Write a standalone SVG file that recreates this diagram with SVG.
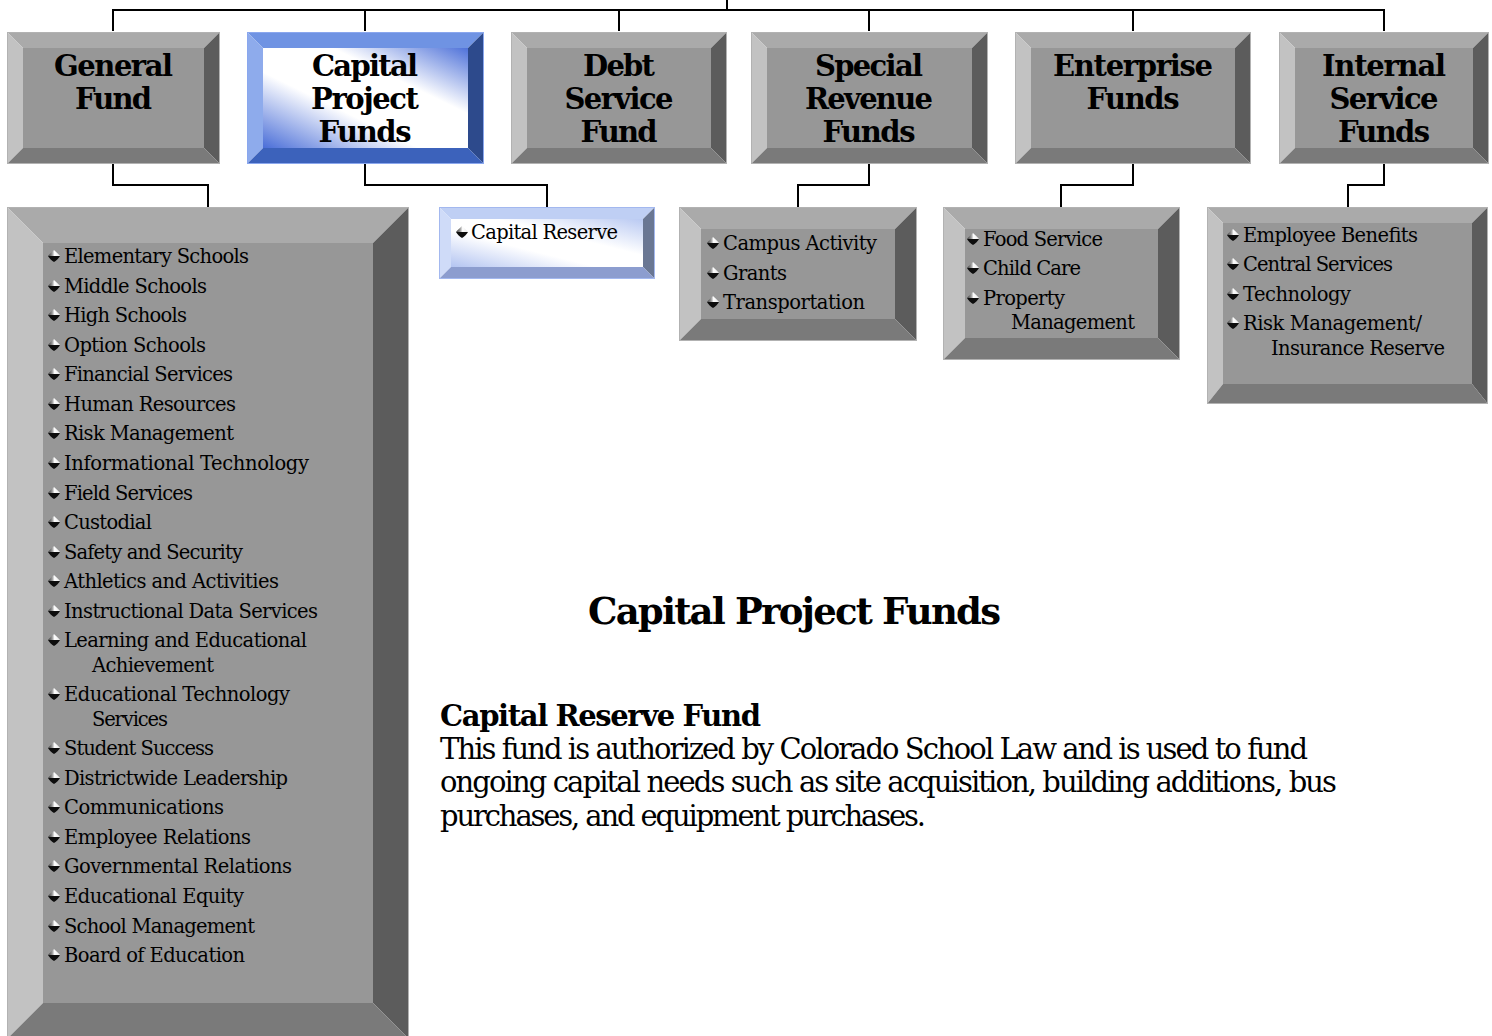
<svg xmlns="http://www.w3.org/2000/svg" xmlns:xlink="http://www.w3.org/1999/xlink" width="1492" height="1036" viewBox="0 0 1492 1036">
<style>
.t{font-family:"DejaVu Serif","Liberation Serif",serif;fill:#000}
.h{font-weight:bold;font-size:29px;text-anchor:middle}
.li{font-size:19.5px}
.gt{fill:#aaaaaa}.gl{fill:#c2c2c2}.gr{fill:#5c5c5c}.gb{fill:#7a7a7a}.gf{fill:#979797}
.go{fill:none;stroke:#b2b2b2;stroke-width:1}
.conn{fill:none;stroke:#000;stroke-width:2}
</style>
<defs>
<linearGradient id="blueFace" x1="1" y1="0" x2="0" y2="1">
<stop offset="0" stop-color="#4f72d9"/>
<stop offset="0.33" stop-color="#ffffff"/>
<stop offset="0.62" stop-color="#ffffff"/>
<stop offset="1" stop-color="#4a6ed8"/>
</linearGradient>
<linearGradient id="lightFace" x1="1" y1="0" x2="0" y2="1">
<stop offset="0" stop-color="#b9c9f2"/>
<stop offset="0.38" stop-color="#ffffff"/>
<stop offset="0.62" stop-color="#ffffff"/>
<stop offset="1" stop-color="#b3c4f1"/>
</linearGradient>
<linearGradient id="bulTop" x1="0" y1="0" x2="1" y2="0">
<stop offset="0" stop-color="#3a3a3a"/>
<stop offset="0.35" stop-color="#9a9a9a"/>
<stop offset="0.55" stop-color="#ffffff"/>
<stop offset="1" stop-color="#e6e6e6"/>
</linearGradient>
<g id="bul">
<path d="M0,-6 C2,-4 4.5,-2 6,0 L-6,0 C-4.5,-2 -2,-4 0,-6 Z" fill="url(#bulTop)"/>
<path d="M-6,0 L6,0 C5,2 2.5,4.5 0,6 C-2.5,4.5 -5,2 -6,0 Z" fill="#0d0d0d"/>
</g>
</defs>

<g id="connectors">
<path class="conn" d="M727,0 V10 M113,31 V10 H1384 V31 M365,10 V31 M619,10 V31 M869,10 V31 M1133,10 V31"/>
<path class="conn" d="M113,164 V185 H208 V207 M365,164 V185 H547 V207 M869,164 V185 H798 V207 M1133,164 V185 H1061 V207 M1384,164 V185 H1348 V207"/>
</g>

<g id="general-fund">
<polygon class="gt" points="7,32 220,32 204,48 23,48"/>
<polygon class="gl" points="7,32 23,48 23,148 7,164"/>
<polygon class="gr" points="220,32 220,164 204,148 204,48"/>
<polygon class="gb" points="7,164 220,164 204,148 23,148"/>
<rect class="gf" x="23" y="48" width="181" height="100"/>
<rect class="go" x="7.5" y="32.5" width="212" height="131"/>
<text class="t h" x="113.5" y="76" textLength="119">General</text>
<text class="t h" x="113.5" y="109" textLength="77">Fund</text>
</g>

<g id="capital-project-funds">
<polygon fill="#6f93e3" points="247,32 484,32 468,48 263,48"/>
<polygon fill="#8eabec" points="247,32 263,48 263,148 247,164"/>
<polygon fill="#2d4a8c" points="484,32 484,164 468,148 468,48"/>
<polygon fill="#3c62bb" points="247,164 484,164 468,148 263,148"/>
<rect fill="url(#blueFace)" x="263" y="48" width="205" height="100"/>
<rect fill="none" stroke="#8aa7ee" stroke-width="1" x="247.5" y="32.5" width="236" height="131"/>
<text class="t h" x="365" y="76" textLength="106">Capital</text>
<text class="t h" x="365" y="109" textLength="108">Project</text>
<text class="t h" x="365" y="142" textLength="93">Funds</text>
</g>

<g id="debt-service-fund">
<polygon class="gt" points="511,32 727,32 711,48 527,48"/>
<polygon class="gl" points="511,32 527,48 527,148 511,164"/>
<polygon class="gr" points="727,32 727,164 711,148 711,48"/>
<polygon class="gb" points="511,164 727,164 711,148 527,148"/>
<rect class="gf" x="527" y="48" width="184" height="100"/>
<rect class="go" x="511.5" y="32.5" width="215" height="131"/>
<text class="t h" x="619" y="76" textLength="72">Debt</text>
<text class="t h" x="619" y="109" textLength="109">Service</text>
<text class="t h" x="619" y="142" textLength="77">Fund</text>
</g>

<g id="special-revenue-funds">
<polygon class="gt" points="751,32 988,32 972,48 767,48"/>
<polygon class="gl" points="751,32 767,48 767,148 751,164"/>
<polygon class="gr" points="988,32 988,164 972,148 972,48"/>
<polygon class="gb" points="751,164 988,164 972,148 767,148"/>
<rect class="gf" x="767" y="48" width="205" height="100"/>
<rect class="go" x="751.5" y="32.5" width="236" height="131"/>
<text class="t h" x="869" y="76" textLength="108">Special</text>
<text class="t h" x="869" y="109" textLength="128">Revenue</text>
<text class="t h" x="869" y="142" textLength="93">Funds</text>
</g>

<g id="enterprise-funds">
<polygon class="gt" points="1015,32 1251,32 1235,48 1031,48"/>
<polygon class="gl" points="1015,32 1031,48 1031,148 1015,164"/>
<polygon class="gr" points="1251,32 1251,164 1235,148 1235,48"/>
<polygon class="gb" points="1015,164 1251,164 1235,148 1031,148"/>
<rect class="gf" x="1031" y="48" width="204" height="100"/>
<rect class="go" x="1015.5" y="32.5" width="235" height="131"/>
<text class="t h" x="1133" y="76" textLength="160">Enterprise</text>
<text class="t h" x="1133" y="109" textLength="93">Funds</text>
</g>

<g id="internal-service-funds">
<polygon class="gt" points="1279,32 1489,32 1473,48 1295,48"/>
<polygon class="gl" points="1279,32 1295,48 1295,148 1279,164"/>
<polygon class="gr" points="1489,32 1489,164 1473,148 1473,48"/>
<polygon class="gb" points="1279,164 1489,164 1473,148 1295,148"/>
<rect class="gf" x="1295" y="48" width="178" height="100"/>
<rect class="go" x="1279.5" y="32.5" width="209" height="131"/>
<text class="t h" x="1384" y="76" textLength="124">Internal</text>
<text class="t h" x="1384" y="109" textLength="109">Service</text>
<text class="t h" x="1384" y="142" textLength="92">Funds</text>
</g>

<g id="general-fund-units">
<polygon class="gt" points="7,207 409,207 373,243 43,243"/>
<polygon class="gl" points="7,207 43,243 43,1003 7,1039"/>
<polygon class="gr" points="409,207 409,1039 373,1003 373,243"/>
<polygon class="gb" points="7,1039 409,1039 373,1003 43,1003"/>
<rect class="gf" x="43" y="243" width="330" height="760"/>
<rect class="go" x="7.5" y="207.5" width="401" height="831"/>
<g class="t li">
<use xlink:href="#bul" x="54" y="256"/><text x="64" y="263" textLength="185">Elementary Schools</text>
<use xlink:href="#bul" x="54" y="286"/><text x="64" y="293" textLength="143">Middle Schools</text>
<use xlink:href="#bul" x="54" y="315"/><text x="64" y="322" textLength="123">High Schools</text>
<use xlink:href="#bul" x="54" y="345"/><text x="64" y="352" textLength="142">Option Schools</text>
<use xlink:href="#bul" x="54" y="374"/><text x="64" y="381" textLength="169">Financial Services</text>
<use xlink:href="#bul" x="54" y="404"/><text x="64" y="411" textLength="172">Human Resources</text>
<use xlink:href="#bul" x="54" y="433"/><text x="64" y="440" textLength="170">Risk Management</text>
<use xlink:href="#bul" x="54" y="463"/><text x="64" y="470" textLength="245">Informational Technology</text>
<use xlink:href="#bul" x="54" y="493"/><text x="64" y="500" textLength="129">Field Services</text>
<use xlink:href="#bul" x="54" y="522"/><text x="64" y="529" textLength="88">Custodial</text>
<use xlink:href="#bul" x="54" y="552"/><text x="64" y="559" textLength="179">Safety and Security</text>
<use xlink:href="#bul" x="54" y="581"/><text x="64" y="588" textLength="215">Athletics and Activities</text>
<use xlink:href="#bul" x="54" y="611"/><text x="64" y="618" textLength="254">Instructional Data Services</text>
<use xlink:href="#bul" x="54" y="640"/><text x="64" y="647" textLength="243">Learning and Educational</text>
<text x="92" y="672" textLength="122">Achievement</text>
<use xlink:href="#bul" x="54" y="694"/><text x="64" y="701" textLength="226">Educational Technology</text>
<text x="92" y="726" textLength="76">Services</text>
<use xlink:href="#bul" x="54" y="748"/><text x="64" y="755" textLength="150">Student Success</text>
<use xlink:href="#bul" x="54" y="778"/><text x="64" y="785" textLength="224">Districtwide Leadership</text>
<use xlink:href="#bul" x="54" y="807"/><text x="64" y="814" textLength="160">Communications</text>
<use xlink:href="#bul" x="54" y="837"/><text x="64" y="844" textLength="187">Employee Relations</text>
<use xlink:href="#bul" x="54" y="866"/><text x="64" y="873" textLength="228">Governmental Relations</text>
<use xlink:href="#bul" x="54" y="896"/><text x="64" y="903" textLength="180">Educational Equity</text>
<use xlink:href="#bul" x="54" y="926"/><text x="64" y="933" textLength="191">School Management</text>
<use xlink:href="#bul" x="54" y="955"/><text x="64" y="962" textLength="181">Board of Education</text>
</g>
</g>

<g id="capital-reserve">
<polygon fill="#bfcff4" points="439,207 655,207 643,219 451,219"/>
<polygon fill="#cfdbf8" points="439,207 451,219 451,267 439,279"/>
<polygon fill="#6a7793" points="655,207 655,279 643,267 643,219"/>
<polygon fill="#8c9dcf" points="439,279 655,279 643,267 451,267"/>
<rect fill="url(#lightFace)" x="451" y="219" width="192" height="48"/>
<rect fill="none" stroke="#a3b8ef" stroke-width="1" x="439.5" y="207.5" width="215" height="71"/>
<g class="t li">
<use xlink:href="#bul" x="462" y="232"/><text x="471" y="239" textLength="147">Capital Reserve</text>
</g>
</g>

<g id="special-revenue-units">
<polygon class="gt" points="679,207 917,207 895,229 701,229"/>
<polygon class="gl" points="679,207 701,229 701,319 679,341"/>
<polygon class="gr" points="917,207 917,341 895,319 895,229"/>
<polygon class="gb" points="679,341 917,341 895,319 701,319"/>
<rect class="gf" x="701" y="229" width="194" height="90"/>
<rect class="go" x="679.5" y="207.5" width="237" height="133"/>
<g class="t li">
<use xlink:href="#bul" x="713" y="243"/><text x="723" y="250" textLength="154">Campus Activity</text>
<use xlink:href="#bul" x="713" y="273"/><text x="723" y="280" textLength="64">Grants</text>
<use xlink:href="#bul" x="713" y="302"/><text x="723" y="309" textLength="142">Transportation</text>
</g>
</g>

<g id="enterprise-units">
<polygon class="gt" points="943,207 1180,207 1158,229 965,229"/>
<polygon class="gl" points="943,207 965,229 965,338 943,360"/>
<polygon class="gr" points="1180,207 1180,360 1158,338 1158,229"/>
<polygon class="gb" points="943,360 1180,360 1158,338 965,338"/>
<rect class="gf" x="965" y="229" width="193" height="109"/>
<rect class="go" x="943.5" y="207.5" width="236" height="152"/>
<g class="t li">
<use xlink:href="#bul" x="973" y="239"/><text x="983" y="246" textLength="120">Food Service</text>
<use xlink:href="#bul" x="973" y="268"/><text x="983" y="275" textLength="98">Child Care</text>
<use xlink:href="#bul" x="973" y="298"/><text x="983" y="305" textLength="82">Property</text>
<text x="1011" y="329" textLength="124">Management</text>
</g>
</g>

<g id="internal-service-units">
<polygon class="gt" points="1207,207 1488,207 1472,223 1223,223"/>
<polygon class="gl" points="1207,207 1223,223 1223,384 1207,404"/>
<polygon class="gr" points="1488,207 1488,404 1472,384 1472,223"/>
<polygon class="gb" points="1207,404 1488,404 1472,384 1223,384"/>
<rect class="gf" x="1223" y="223" width="249" height="161"/>
<rect class="go" x="1207.5" y="207.5" width="280" height="196"/>
<g class="t li">
<use xlink:href="#bul" x="1233" y="235"/><text x="1243" y="242" textLength="175">Employee Benefits</text>
<use xlink:href="#bul" x="1233" y="264"/><text x="1243" y="271" textLength="150">Central Services</text>
<use xlink:href="#bul" x="1233" y="294"/><text x="1243" y="301" textLength="108">Technology</text>
<use xlink:href="#bul" x="1233" y="323"/><text x="1243" y="330" textLength="179">Risk Management/</text>
<text x="1271" y="355" textLength="174">Insurance Reserve</text>
</g>
</g>

<g id="description" class="t">
<text x="588" y="624" font-size="37" font-weight="bold" textLength="413">Capital Project Funds</text>
<text x="440" y="726" font-size="29" font-weight="bold" textLength="321">Capital Reserve Fund</text>
<text x="440" y="759" font-size="29" textLength="868">This fund is authorized by Colorado School Law and is used to fund</text>
<text x="440" y="792" font-size="29" textLength="897">ongoing capital needs such as site acquisition, building additions, bus</text>
<text x="440" y="826" font-size="29" textLength="486">purchases, and equipment purchases.</text>
</g>
</svg>
